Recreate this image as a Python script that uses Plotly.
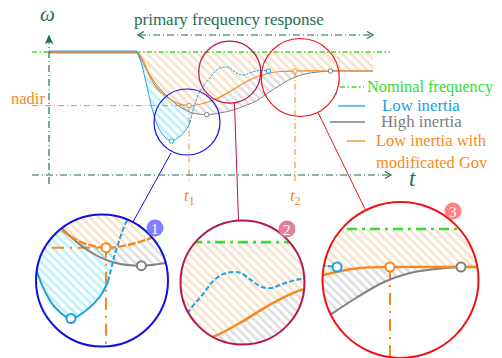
import numpy as np
import plotly.graph_objects as go

# frequency response after a loss of generation (t in s, w in Hz)
t_pre = [-8.8, 0.0]
w_pre = [50.0, 50.0]

t_low = [0, 0.4, 0.8, 1.3, 1.8, 2.2, 2.7, 3.45, 4.2, 4.9, 5.3, 5.75, 6.2, 6.7, 7.3, 7.8,
         8.3, 8.8, 9.2, 9.7, 10.2, 10.7, 11.3, 12.2, 13.15]
w_low = [50.0, 49.90, 49.74, 49.52, 49.33, 49.235, 49.16, 49.11, 49.15, 49.22, 49.295, 49.465,
         49.59, 49.67, 49.74, 49.805, 49.84, 49.85, 49.845, 49.81, 49.777, 49.77, 49.792, 49.815, 49.81]

t_high = [0, 0.6, 1.6, 3.0, 4.3, 5.6, 6.97, 8.3, 9.6, 11.0, 12.0, 12.8, 14.1, 15.5, 16.8,
          18.1, 19.35, 21.5, 23.6]
w_high = [50.0, 49.89, 49.72, 49.56, 49.45, 49.39, 49.374, 49.39, 49.42, 49.47, 49.515, 49.57,
          49.655, 49.735, 49.78, 49.80, 49.81, 49.81, 49.81]

t_gov = [0, 0.6, 1.3, 2.0, 3.0, 4.0, 5.2, 6.6, 8.0, 9.3, 10.6, 11.9, 13.1, 14.3, 15.8, 19.0, 23.6]
w_gov = [50.0, 49.92, 49.75, 49.64, 49.55, 49.49, 49.464, 49.485, 49.535, 49.605, 49.685, 49.75,
         49.785, 49.805, 49.81, 49.81, 49.81]

# settling instants (low, high, gov)
t_settle = [13.15, 19.35, 15.8]
w_nominal = 50.0
t_nominal = [-10.5, 25.3]
t_hatch = [0.0, 23.6]
t_low_solid_end = 5.3
t_low_cross = 5.75

# picture geometry
W, H = 502, 358
X0, XS = 137, 10.0     # px of t=0, px per s
Y0, YS = 52, 100.0     # px of nominal, px per Hz
Y_FOOT = 182           # lower end of the t1/t2 guides

GREEN_AX = "#1f6f4f"
LIME = "#33dd33"
BLUE = "#1ba1e2"
GRAY = "#808080"
ORANGE = "#f7891c"
H_OR = "#f0c494"
H_GR = "#bdbdbd"
H_CY = "#74e4f2"
SERIF = "Liberation Serif"


def tx(p):
    return (p - X0) / XS


def wy(p):
    return w_nominal - (p - Y0) / YS


def fx(p):
    return p / W


def fy(p):
    return 1 - p / H


def dash(k, *seg):
    return ",".join(f"{s * k:g}px" for s in seg)


fig = go.Figure()


def hatch(c):
    return dict(shape="\\", fgcolor=c, bgcolor="rgba(0,0,0,0)", size=6, solidity=0.42)


def key_points(t, w, ts):
    i = int(np.argmin(w))
    j = t.index(ts)
    return [t[i], t[j]], [w[i], w[j]]


def add_curves(xa, ya, k, gov_dash="solid"):
    kw = dict(xaxis=xa, yaxis=ya, showlegend=False, hoverinfo="skip", mode="lines")
    sp = dict(width=0, shape="spline")
    # hatched areas
    fig.add_trace(go.Scatter(x=t_hatch, y=[w_nominal] * 2, line=dict(width=0), **kw))
    fig.add_trace(go.Scatter(x=t_gov, y=w_gov, line=sp, fill="tonexty",
                             fillcolor="rgba(0,0,0,0)", fillpattern=hatch(H_OR), **kw))
    fig.add_trace(go.Scatter(x=t_high, y=w_high, line=sp, fill="tonexty",
                             fillcolor="rgba(0,0,0,0)", fillpattern=hatch(H_GR), **kw))
    ic = t_low.index(t_low_cross)
    n = sum(1 for v in t_gov if v < t_low_cross)
    fig.add_trace(go.Scatter(x=t_gov[:n] + [t_low[ic]], y=w_gov[:n] + [w_low[ic]], line=sp, **kw))
    fig.add_trace(go.Scatter(x=t_low[:ic + 1], y=w_low[:ic + 1], line=sp, fill="tonexty",
                             fillcolor="rgba(0,0,0,0)", fillpattern=hatch(H_CY), **kw))
    # guides
    fig.add_trace(go.Scatter(x=t_nominal, y=[w_nominal] * 2,
                             line=dict(color=LIME, width=1.3 * k, dash=dash(k, 5, 2.5, 1.5, 2.5)), **kw))
    i_n = int(np.argmin(w_gov))
    tn, wn = t_gov[i_n], w_gov[i_n]
    j2 = t_gov.index(t_settle[2])
    gd = dict(color=ORANGE, width=1 * k, dash=dash(k, 6, 3, 1, 3))
    fig.add_trace(go.Scatter(x=[t_nominal[0], tn, tn], y=[wn, wn, wy(Y_FOOT)], line=gd, **kw))
    fig.add_trace(go.Scatter(x=[t_gov[j2]] * 2, y=[w_gov[j2], wy(Y_FOOT)], line=gd, **kw))
    # pre-disturbance
    fig.add_trace(go.Scatter(x=t_pre, y=w_pre, line=dict(color="#42a5e0", width=3 * k), **kw))
    fig.add_trace(go.Scatter(x=t_pre, y=w_pre, line=dict(color=ORANGE, width=1.4 * k), **kw))
    # curves
    fig.add_trace(go.Scatter(x=t_high, y=w_high, line=dict(color=GRAY, width=1 * k, shape="spline"), **kw))
    fig.add_trace(go.Scatter(x=t_gov, y=w_gov,
                             line=dict(color=ORANGE, width=1.2 * k, shape="spline", dash=gov_dash), **kw))
    js = t_low.index(t_low_solid_end)
    fig.add_trace(go.Scatter(x=t_low[:js + 1], y=w_low[:js + 1],
                             line=dict(color=BLUE, width=1 * k, shape="spline"), **kw))
    fig.add_trace(go.Scatter(x=t_low[js:], y=w_low[js:],
                             line=dict(color=BLUE, width=1 * k, shape="spline", dash=dash(k, 2.5, 1.2)), **kw))
    for (t, w, ts, c) in [(t_low, w_low, t_settle[0], BLUE), (t_high, w_high, t_settle[1], GRAY),
                          (t_gov, w_gov, t_settle[2], ORANGE)]:
        mx, my = key_points(t, w, ts)
        kw2 = dict(kw, mode="markers")
        fig.add_trace(go.Scatter(x=mx, y=my, marker=dict(size=4.5 * k, color="white",
                                 line=dict(color=c, width=1 * k)), **kw2))


# main view
add_curves("x", "y", 1)

layout = dict(
    xaxis=dict(domain=[0, 1], range=[tx(0), tx(W)], visible=False, fixedrange=True),
    yaxis=dict(domain=[0, 1], range=[wy(H), wy(0)], visible=False, fixedrange=True),
)

# magnified views (main centre px, main radius, zoom centre px, factor 2)
spies = [
    dict(m=(187, 122), r=33, z=(102, 280.5), col="#1010e6", badge="#8080ff",
         b=(155, 228), a=(171, 153), c=(133, 222), gd="8px,2px"),
    dict(m=(229.7, 72.2), r=31, z=(242.5, 282.5), col="#b3174e", badge="#e0809b",
         b=(287, 229), a=(234.5, 103), c=(238.5, 220.5), gd="solid"),
    dict(m=(300.25, 77.5), r=39, z=(400.5, 280), col="#ee1414", badge="#ff8080",
         b=(453, 211), a=(318, 112.5), c=(365, 209), gd="solid"),
]

shapes = []
for n, s in enumerate(spies, start=2):
    (mx, my), r, (zx, zy) = s["m"], s["r"], s["z"]
    rz = 2 * r
    add_curves(f"x{n}", f"y{n}", 2, s["gd"])
    layout[f"xaxis{n}"] = dict(domain=[max(0, fx(zx - rz)), min(1, fx(zx + rz))],
                               range=[tx(mx - r), tx(mx + r)], visible=False,
                               fixedrange=True, anchor=f"y{n}")
    layout[f"yaxis{n}"] = dict(domain=[max(0, fy(zy + rz)), min(1, fy(zy - rz))],
                               range=[wy(my + r), wy(my - r)], visible=False,
                               fixedrange=True, anchor=f"x{n}")
    # white mask around the round lens
    pad = 3
    box = [(zx - rz - pad, zy - rz - pad), (zx + rz + pad, zy - rz - pad),
           (zx + rz + pad, zy + rz + pad), (zx - rz - pad, zy + rz + pad)]
    path = "M " + " L ".join(f"{fx(x):.5f},{fy(y):.5f}" for x, y in box) + " Z "
    ang = np.linspace(0, 2 * np.pi, 145)[:-1]
    path += "M " + " L ".join(f"{fx(zx + (rz - 0.3) * np.cos(v)):.5f},{fy(zy + (rz - 0.3) * np.sin(v)):.5f}"
                              for v in ang) + " Z"
    shapes.append(dict(type="path", path=path, xref="paper", yref="paper", fillcolor="white",
                       line=dict(width=0), fillrule="evenodd", layer="above"))
    shapes.append(dict(type="circle", xref="paper", yref="paper", x0=fx(zx - rz), x1=fx(zx + rz),
                       y0=fy(zy + rz), y1=fy(zy - rz), line=dict(color=s["col"], width=2)))
    shapes.append(dict(type="circle", xref="paper", yref="paper", x0=fx(mx - r), x1=fx(mx + r),
                       y0=fy(my + r), y1=fy(my - r), line=dict(color=s["col"], width=1.2)))
    shapes.append(dict(type="line", xref="paper", yref="paper", x0=fx(s["a"][0]), y0=fy(s["a"][1]),
                       x1=fx(s["c"][0]), y1=fy(s["c"][1]), line=dict(color=s["col"], width=1)))
    bx, by = s["b"]
    shapes.append(dict(type="circle", xref="paper", yref="paper", x0=fx(bx - 8.5), x1=fx(bx + 8.5),
                       y0=fy(by + 8.5), y1=fy(by - 8.5), fillcolor=s["badge"], line=dict(width=0)))

# drawn axes
ax_line = dict(color=GREEN_AX, width=1.2, dash="7px,3px,1px,3px")
shapes += [
    dict(type="line", xref="paper", yref="paper", x0=fx(49), x1=fx(49), y0=fy(184), y1=fy(40), line=ax_line),
    dict(type="line", xref="paper", yref="paper", x0=fx(32), x1=fx(390), y0=fy(175), y1=fy(175), line=ax_line),
    dict(type="line", xref="paper", yref="paper", x0=fx(139), x1=fx(372), y0=fy(35), y1=fy(35), line=ax_line),
]


def chevron(pts, color=GREEN_AX, fill=False):
    p = "M " + " L ".join(f"{fx(x):.5f},{fy(y):.5f}" for x, y in pts)
    if fill:
        p += " Z"
    return dict(type="path", path=p, xref="paper", yref="paper",
                line=dict(color=color, width=1.2), fillcolor=color if fill else None)


shapes += [
    chevron([(46, 43), (49, 36), (52, 43), (49, 41)], fill=True),
    chevron([(385, 171.5), (391, 175), (385, 178.5)]),
    chevron([(144, 31.5), (138, 35), (144, 38.5)]),
    chevron([(367, 31.5), (373, 35), (367, 38.5)]),
]

# legend samples
leg = [(LIME, 340, 364, 87, "5px,2.5px,1.5px,2.5px"), (BLUE, 338, 365, 106, "solid"),
       (GRAY, 330, 365, 122, "solid"), (ORANGE, 347, 365, 141, "solid")]
for c, xa_, xb_, yy, d in leg:
    shapes.append(dict(type="line", xref="paper", yref="paper", x0=fx(xa_), x1=fx(xb_),
                       y0=fy(yy), y1=fy(yy), line=dict(color=c, width=1.3, dash=d)))


def note(text, x, y, color, size, anchor="center"):
    return dict(text=text, x=fx(x), y=fy(y), xref="paper", yref="paper", showarrow=False,
                xanchor=anchor, yanchor="middle", font=dict(family=SERIF, size=size, color=color))


annotations = [
    note("<i>ω</i>", 47, 14, GREEN_AX, 21),
    note("primary frequency response", 229, 19, GREEN_AX, 17),
    note("<i>t</i>", 412, 178, GREEN_AX, 23),
    note("nadir", 47, 98, ORANGE, 16.5, "right"),
    note("<i>t</i><sub>1</sub>", 189, 197, ORANGE, 17),
    note("<i>t</i><sub>2</sub>", 295, 197, ORANGE, 17),
    note("Nominal frequency", 365, 87, LIME, 16.3, "left"),
    note("Low inertia", 380, 106, BLUE, 16.8, "left"),
    note("High inertia", 379, 122, GRAY, 16.8, "left"),
    note("Low inertia with", 374, 141, ORANGE, 16.5, "left"),
    note("modificated Gov", 374, 162, ORANGE, 16.5, "left"),
]
for k, s in enumerate(spies, start=1):
    annotations.append(note(str(k), s["b"][0], s["b"][1] + 0.5, "white", 15))

fig.update_layout(
    width=W, height=H, autosize=False,
    margin=dict(l=0, r=0, t=0, b=0),
    paper_bgcolor="white", plot_bgcolor="rgba(0,0,0,0)",
    font=dict(family=SERIF),
    shapes=shapes, annotations=annotations, showlegend=False,
    **layout,
)

fig.write_html("out.html", config={"displayModeBar": False},
               post_script="document.body.style.margin='0px';")
